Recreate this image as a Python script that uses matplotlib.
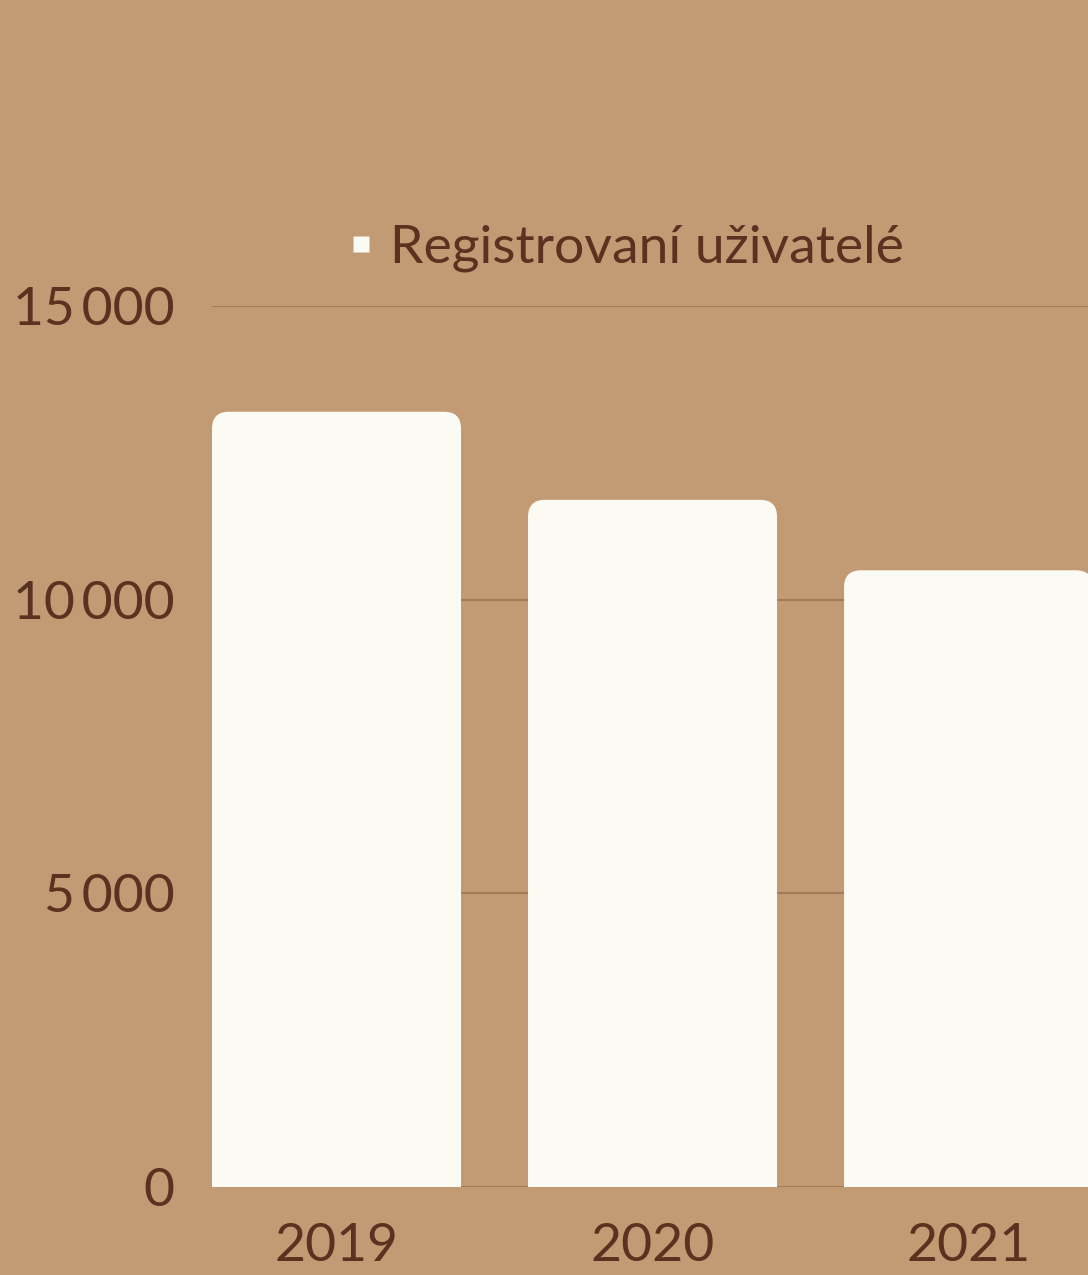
import matplotlib.pyplot as plt
from matplotlib.patches import FancyBboxPatch
from matplotlib.lines import Line2D
from matplotlib.ticker import FuncFormatter

years = ['2019', '2020', '2021']
users = [13200, 11700, 10500]
y_ticks = [0, 5000, 10000, 15000]
series_name = 'Registrovaní uživatelé'

bg = '#c29a74'
bar_col = '#fbfbf3'
text_col = '#5a3220'
grid_col = '#a47b5a'

plt.rcParams['font.family'] = ['Lato', 'DejaVu Sans']

fig = plt.figure(figsize=(10.88, 12.75), dpi=100, facecolor=bg)
ax = fig.add_axes([212 / 1088, 88 / 1275, 876 / 1088, 881 / 1275])
ax.set_facecolor(bg)

width = 0.788
x = range(len(years))
bars = ax.bar(x, users, width=width, color=bar_col, zorder=3)

# swap the plain rectangles for ones with rounded top corners
ax.set_xlim(-width / 2, 2.378)
ax.set_ylim(0, 15000)
px_x = (2.378 + width / 2) / 876
px_y = 15000 / 881
r = 17
for b in bars:
    b.set_visible(False)
    p = FancyBboxPatch((b.get_x(), -2000), b.get_width(), b.get_height() + 2000,
                       boxstyle=f'round,pad=0,rounding_size={r * px_x}',
                       mutation_aspect=px_y / px_x,
                       fc=bar_col, ec='none', zorder=3)
    ax.add_patch(p)

ax.set_yticks(y_ticks)
ax.yaxis.set_major_formatter(FuncFormatter(lambda v, _: f'{int(v):,}'.replace(',', '\u2009')))
ax.set_xticks(list(x))
ax.set_xticklabels(years)
ax.grid(axis='y', color=grid_col, lw=1.5, zorder=1)
ax.tick_params(axis='both', length=0, labelsize=38.5, colors=text_col)
ax.tick_params(axis='y', pad=27)
ax.tick_params(axis='x', pad=26)
for s in ax.spines.values():
    s.set_visible(False)

handle = Line2D([], [], marker='s', ls='none', markersize=11.5,
                markerfacecolor=bar_col, markeredgecolor='none')
leg = ax.legend([handle], [series_name], loc='center', bbox_to_anchor=(0.472, 1.065),
                frameon=False, fontsize=38.5, handlelength=0.5, handletextpad=0.3,
                labelcolor=text_col)

fig.savefig('out.png', dpi=100, facecolor=bg)
